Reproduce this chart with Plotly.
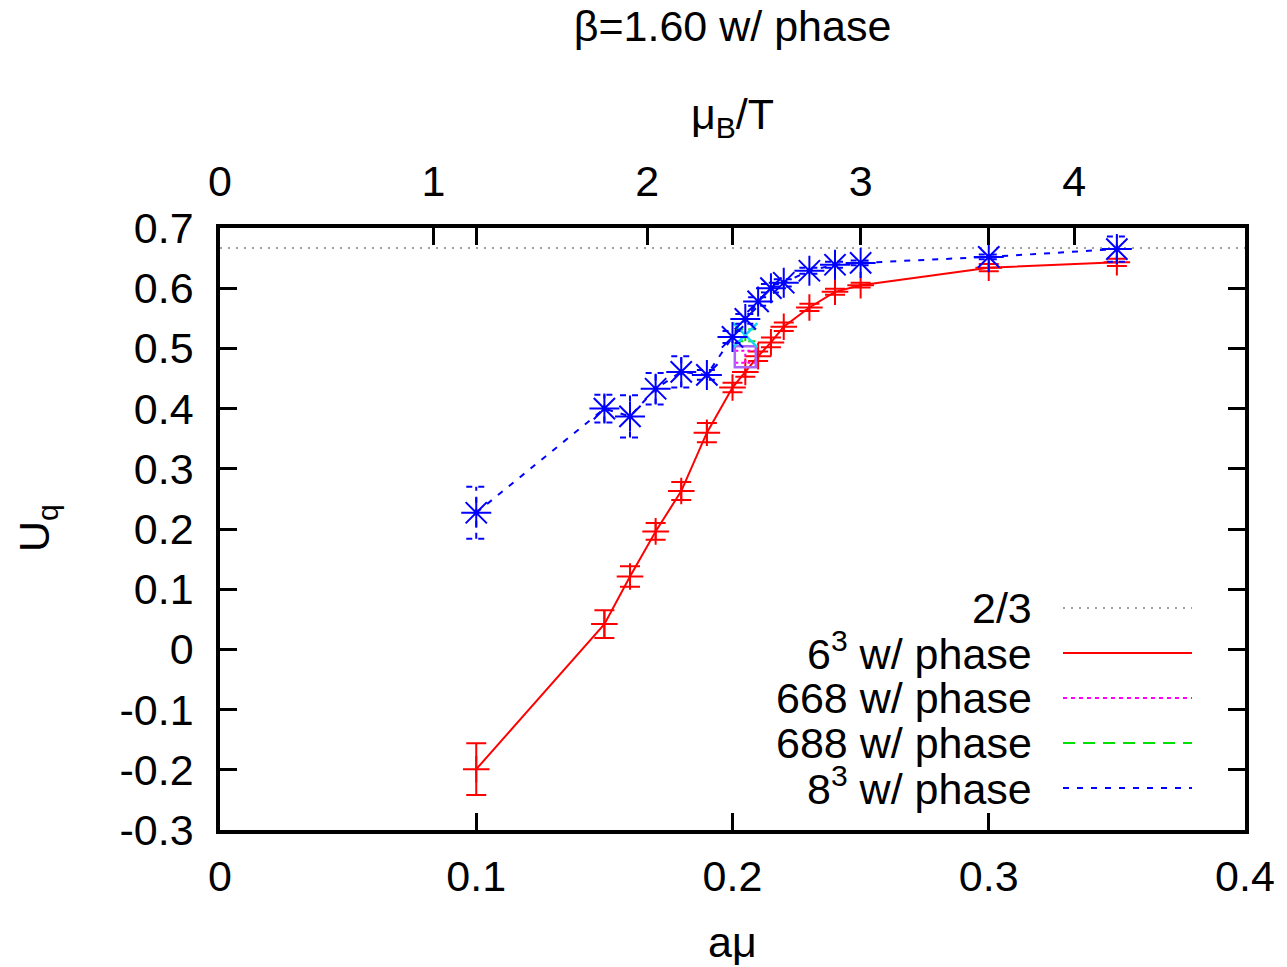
import plotly.graph_objects as go

# ---------------- data ----------------
amu_63 = [0.10, 0.15, 0.16, 0.17, 0.18, 0.19, 0.20, 0.205, 0.21, 0.215, 0.22, 0.23, 0.24, 0.25, 0.30, 0.35]
uq_63 = [-0.199, 0.042, 0.121, 0.196, 0.263, 0.360, 0.435, 0.461, 0.487, 0.510, 0.536, 0.568, 0.594, 0.605, 0.634, 0.643]
err_63 = [0.043, 0.023, 0.017, 0.014, 0.015, 0.016, 0.008, 0.008, 0.008, 0.008, 0.007, 0.006, 0.005, 0.004, 0.006, 0.006]

amu_83 = [0.10, 0.15, 0.16, 0.17, 0.18, 0.19, 0.20, 0.205, 0.21, 0.215, 0.22, 0.23, 0.24, 0.25, 0.30, 0.35]
uq_83 = [0.227, 0.400, 0.387, 0.433, 0.461, 0.456, 0.519, 0.549, 0.578, 0.600, 0.609, 0.629, 0.639, 0.642, 0.652, 0.665]
err_83 = [0.043, 0.023, 0.035, 0.026, 0.026, 0.008, 0.010, 0.008, 0.007, 0.007, 0.006, 0.005, 0.005, 0.004, 0.004, 0.021]

amu_668 = [0.205]
uq_668 = [0.486]
err_668 = [0.010]

amu_688 = [0.205]
uq_688 = [0.522]
err_688 = [0.010]

ref_value = 2.0 / 3.0
x_range = [0.0, 0.4]
y_range = [-0.3, 0.7]
mub_per_amu = 12.0  # mu_B/T = 12 * a*mu

x_tickvals = [0.0, 0.1, 0.2, 0.3, 0.4]
x_ticktext = ["0", "0.1", "0.2", "0.3", "0.4"]
x2_tickvals = [0, 1, 2, 3, 4]
x2_ticktext = ["0", "1", "2", "3", "4"]
y_tickvals = [0.7, 0.6, 0.5, 0.4, 0.3, 0.2, 0.1, 0.0, -0.1, -0.2, -0.3]
y_ticktext = ["0.7", "0.6", "0.5", "0.4", "0.3", "0.2", "0.1", "0", "-0.1", "-0.2", "-0.3"]

legend_labels = ["2/3", "6<sup>3</sup> w/ phase", "668 w/ phase", "688 w/ phase", "8<sup>3</sup> w/ phase"]

# ---------------- styles ----------------
FONT = "Liberation Sans, Arial, Helvetica, sans-serif"
FS = 43
RED, MAG, GRN, BLU, GRY = "#ff0000", "#ff00ff", "#00e000", "#0000ff", "#808080"
CAP = 0.0039  # half-width of the error-bar caps, in a*mu units


def errbar_paths(xs, ys, es):
    px, py = [], []
    for x, y, e in zip(xs, ys, es):
        lo, hi = y - e, y + e
        px += [x, x, None, x - CAP, x + CAP, None, x - CAP, x + CAP, None]
        py += [lo, hi, None, lo, lo, None, hi, hi, None]
    return px, py


fig = go.Figure()

# 2/3 reference line
fig.add_trace(go.Scatter(x=x_range, y=[ref_value, ref_value], mode="lines",
                         line=dict(color=GRY, width=1.6, dash="2px,6px"),
                         showlegend=False, hoverinfo="skip"))

# 6^3
fig.add_trace(go.Scatter(x=amu_63, y=uq_63, mode="lines+markers",
                         line=dict(color=RED, width=2),
                         marker=dict(symbol="cross-thin-open", size=19,
                                     line=dict(color=RED, width=2)),
                         error_y=dict(type="data", array=err_63, visible=True,
                                      color=RED, thickness=2, width=10),
                         showlegend=False))

# 668
ex, ey = errbar_paths(amu_668, uq_668, err_668)
fig.add_trace(go.Scatter(x=ex, y=ey, mode="lines",
                         line=dict(color=MAG, width=2, dash="3px,3px"),
                         showlegend=False, hoverinfo="skip"))
fig.add_trace(go.Scatter(x=amu_668, y=uq_668, mode="markers",
                         marker=dict(symbol="square-open", size=21,
                                     line=dict(color=MAG, width=2.5)),
                         showlegend=False))

# 688
ex, ey = errbar_paths(amu_688, uq_688, err_688)
fig.add_trace(go.Scatter(x=ex, y=ey, mode="lines",
                         line=dict(color=GRN, width=2, dash="8px,5px"),
                         showlegend=False, hoverinfo="skip"))
fig.add_trace(go.Scatter(x=amu_688, y=uq_688, mode="markers",
                         marker=dict(symbol="x-thin-open", size=24,
                                     line=dict(color=GRN, width=2.5)),
                         showlegend=False))

# 8^3
ex, ey = errbar_paths(amu_83, uq_83, err_83)
fig.add_trace(go.Scatter(x=ex, y=ey, mode="lines",
                         line=dict(color=BLU, width=2, dash="6px,6px"),
                         showlegend=False, hoverinfo="skip"))
fig.add_trace(go.Scatter(x=amu_83, y=uq_83, mode="lines+markers",
                         line=dict(color=BLU, width=2, dash="6px,8px"),
                         marker=dict(symbol="asterisk-open", size=25,
                                     line=dict(color=BLU, width=2)),
                         showlegend=False))

# ---------------- layout ----------------
L, R, T, B = 220, 42, 228, 137
W, H = 1287, 967
PW, PH = W - L - R, H - T - B

def px2paper_x(px):
    return (px - L) / PW

def px2paper_y(py):
    return (H - B - py) / PH

axis_common = dict(showgrid=False, zeroline=False, ticks="inside", ticklen=17,
                   tickwidth=3, tickcolor="black",
                   tickfont=dict(family=FONT, size=FS, color="black"))

fig.update_layout(
    width=W, height=H,
    margin=dict(l=L, r=R, t=T, b=B, pad=0),
    paper_bgcolor="white", plot_bgcolor="white",
    showlegend=False,
    font=dict(family=FONT, size=FS, color="black"),
    title=dict(text="β=1.60 w/ phase", x=0.5, xref="paper", xanchor="center",
               y=1 - 26 / H, yref="container", yanchor="middle",
               font=dict(family=FONT, size=FS, color="black")),
    xaxis=dict(range=x_range, tickvals=x_tickvals, ticktext=x_ticktext,
               showline=True, linewidth=3.5, linecolor="black", mirror="ticks",
               ticklabelstandoff=6, **axis_common),
    xaxis2=dict(range=[x_range[0] * mub_per_amu, x_range[1] * mub_per_amu],
                tickvals=x2_tickvals, ticktext=x2_ticktext, overlaying="x",
                side="top", anchor="y", showline=False,
                ticklabelstandoff=22, **axis_common),
    yaxis=dict(range=y_range, tickvals=y_tickvals, ticktext=y_ticktext,
               showline=True, linewidth=3.5, linecolor="black", mirror="ticks",
               ticklabelstandoff=14, **axis_common),
)

# invisible trace that keeps the mu_B/T axis active
fig.add_trace(go.Scatter(x=[x_range[0] * mub_per_amu], y=[y_range[0]], xaxis="x2",
                         mode="markers", marker=dict(opacity=0),
                         showlegend=False, hoverinfo="skip"))

annotations = [
    dict(text="aμ", x=0.5, y=px2paper_y(942), xref="paper", yref="paper",
         xanchor="center", yanchor="middle", showarrow=False,
         font=dict(family=FONT, size=FS, color="black")),
    dict(text="μ<sub>B</sub>/T", x=0.5, y=px2paper_y(117), xref="paper", yref="paper",
         xanchor="center", yanchor="middle", showarrow=False,
         font=dict(family=FONT, size=FS, color="black")),
    dict(text="U<sub>q</sub>", x=px2paper_x(37), y=px2paper_y(528), xref="paper", yref="paper",
         xanchor="center", yanchor="middle", showarrow=False, textangle=-90,
         font=dict(family=FONT, size=FS, color="black")),
]

legend_y = [608, 653, 698, 743, 788]
legend_styles = [
    dict(color=GRY, width=1.6, dash="2px,6px"),
    dict(color=RED, width=2),
    dict(color=MAG, width=2, dash="4px,4px"),
    dict(color=GRN, width=2, dash="12px,8px"),
    dict(color=BLU, width=2, dash="6px,8px"),
]
shapes = []
for lab, ly, st in zip(legend_labels, legend_y, legend_styles):
    annotations.append(dict(text=lab, x=px2paper_x(1034), y=px2paper_y(ly - 2 if "<sup>" in lab else ly),
                            xref="paper", yref="paper", xanchor="right", yanchor="middle",
                            showarrow=False, font=dict(family=FONT, size=FS, color="black")))
    shapes.append(dict(type="line", xref="paper", yref="paper",
                       x0=px2paper_x(1063), x1=px2paper_x(1192),
                       y0=px2paper_y(ly), y1=px2paper_y(ly), line=st))

fig.update_layout(annotations=annotations, shapes=shapes)

fig.write_html("out.html")
